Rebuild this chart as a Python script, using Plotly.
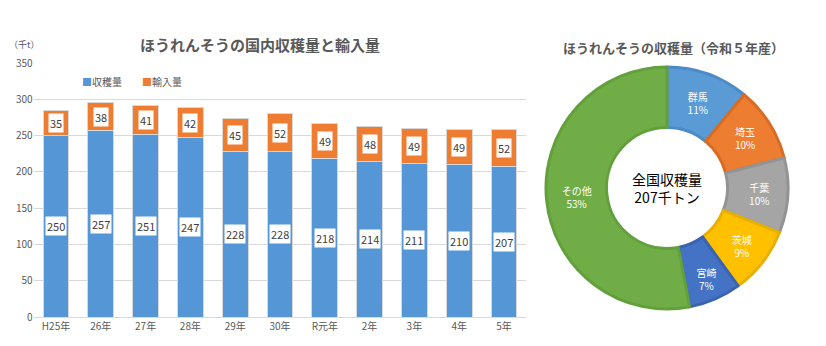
import plotly.graph_objects as go

categories = ["H25年", "26年", "27年", "28年", "29年", "30年", "R元年", "2年", "3年", "4年", "5年"]
harvest = [250, 257, 251, 247, 228, 228, 218, 214, 211, 210, 207]
imports = [35, 38, 41, 42, 45, 52, 49, 48, 49, 49, 52]

pie_labels = ["群馬", "埼玉", "千葉", "茨城", "宮崎", "その他"]
pie_values = [11, 10, 10, 9, 7, 53]
pie_colors = ["#5B9BD5", "#ED7D31", "#A5A5A5", "#FFC000", "#4472C4", "#70AD47"]
pie_borders = ["#4A8BC8", "#D96C22", "#939393", "#E8AE00", "#3A63B0", "#62A03C"]

FONT = "Noto Sans CJK JP"
BLUE = "#5596D6"
ORANGE = "#EE7D31"

fig = go.Figure()
fig.add_trace(go.Bar(x=categories, y=harvest, name="収穫量", marker=dict(color=BLUE, line=dict(width=1, color="#D8D8D8")),
                     showlegend=False, hoverinfo="skip"))
fig.add_trace(go.Bar(x=categories, y=imports, name="輸入量", marker=dict(color=ORANGE, line=dict(width=1, color="#D8D8D8")),
                     showlegend=False, hoverinfo="skip"))

annotations = []
for c, h, i in zip(categories, harvest, imports):
    annotations.append(dict(x=c, y=h / 2, xref="x", yref="y", text=str(h), showarrow=False,
                            xanchor="center", yanchor="middle",
                            bgcolor="white", font=dict(size=11, color="#404040", family=FONT),
                            borderpad=1))
    annotations.append(dict(x=c, y=h + i / 2, xref="x", yref="y", text=str(i), showarrow=False,
                            xanchor="center", yanchor="middle",
                            bgcolor="white", font=dict(size=11, color="#404040", family=FONT),
                            borderpad=1))

fig.add_trace(go.Pie(labels=pie_labels, values=pie_values, hole=0.5, sort=False, direction="clockwise",
                     rotation=0,
                     marker=dict(colors=pie_colors, line=dict(color=pie_borders, width=3)),
                     texttemplate="%{label}<br>%{value}%", textposition="inside",
                     insidetextorientation="horizontal",
                     textfont=dict(color="white", size=10, family=FONT),
                     domain=dict(x=[546 / 826, 788 / 826], y=[1 - 309 / 346, 1 - 67 / 346]),
                     showlegend=False, hoverinfo="skip"))

def paper_note(px, py, text, size, color, xanchor="center"):
    return dict(x=px / 826, y=1 - py / 346, xref="paper", yref="paper", text=text,
                xanchor=xanchor, yanchor="middle", showarrow=False,
                font=dict(size=size, color=color, family=FONT))

annotations += [
    paper_note(260, 45, "<b>ほうれんそうの国内収穫量と輸入量</b>", 15, "#595959"),
    paper_note(24, 44, "（千t）", 9, "#595959"),
    paper_note(673, 48, "<b>ほうれんそうの収穫量（令和５年産）</b>", 13, "#595959"),
    paper_note(667, 188, "全国収穫量<br>207千トン", 14, "black"),
    paper_note(80, 82, f"<span style='color:{BLUE}'>■</span>収穫量", 10, "#595959", "left"),
    paper_note(140, 82, f"<span style='color:{ORANGE}'>■</span>輸入量", 10, "#595959", "left"),
]

fig.update_layout(
    width=826, height=346,
    margin=dict(l=0, r=0, t=0, b=0),
    paper_bgcolor="white", plot_bgcolor="white",
    barmode="stack", bargap=0.42,
    font=dict(family=FONT, color="#595959"),
    xaxis=dict(domain=[33.6 / 826, 526.4 / 826], showgrid=False, showline=True, linecolor="#D9D9D9",
               tickfont=dict(size=10, color="#595959"), ticks="", automargin=False),
    yaxis=dict(domain=[1 - 317 / 346, 1 - 63 / 346], range=[0, 350], dtick=50, showgrid=True,
               gridcolor="#D9D9D9", zeroline=False, tickfont=dict(size=10, color="#595959"), ticks="",
               automargin=False),
    annotations=annotations,
)

fig.write_html("out.html")
